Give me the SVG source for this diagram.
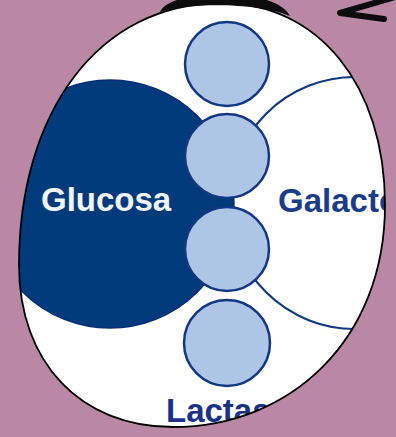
<svg xmlns="http://www.w3.org/2000/svg" width="396" height="437" viewBox="0 0 396 437">
  <style>
    .lbl { font-family: "Liberation Sans", Arial, sans-serif; font-weight: bold; font-size: 33px; }
    .unit { fill: #aec5e6; stroke: #103884; stroke-width: 2.5; }
    .outline { fill: none; stroke: #000; stroke-width: 1.8; }
    .arrow { fill: none; stroke: #0b0c0b; stroke-width: 6; stroke-linecap: round; stroke-linejoin: round; }
  </style>
  <defs>
    <path id="egg" d="M222,3 C318,3 385,85 385,205 C385,340 290,427 173,427 C80,427 19,362 19,265 C19,113 98,3 222,3 Z"/>
    <clipPath id="eggclip"><use href="#egg"/></clipPath>
  </defs>
  <rect width="396" height="437" fill="#ba88a5"/>
  <use href="#egg" fill="#ffffff"/>
  <g clip-path="url(#eggclip)">
    <g id="galactosa">
      <circle cx="355" cy="203" r="126" fill="#ffffff" stroke="#0f3a85" stroke-width="2.2"/>
      <text class="lbl" x="278" y="212" fill="#1b3c88">Galactosa</text>
    </g>
    <g id="glucosa">
      <circle cx="110" cy="204" r="124" fill="#023b7c" stroke="#0a2d78" stroke-width="1.5"/>
      <text class="lbl" x="41" y="211" fill="#f2f5fb">Glucosa</text>
    </g>
    <g id="cadena">
      <circle id="u1" class="unit" cx="227" cy="64" r="42"/>
      <circle id="u2" class="unit" cx="227" cy="156" r="42"/>
      <circle id="u3" class="unit" cx="227" cy="249" r="42"/>
      <circle id="u4" class="unit" cx="227" cy="343" r="43"/>
    </g>
    <g id="lactasa">
      <text class="lbl" x="166" y="422" fill="#1a3288">Lactasa</text>
    </g>
  </g>
  <use href="#egg" class="outline"/>
  <path d="M160,12 C170,-12 275,-14 290,16 C260,3 190,2 160,12 Z" fill="#0b0c0b"/>
  <g id="connectors">
    <path class="arrow" d="M402,-5 L340,13 L384,19"/>
  </g>
</svg>
